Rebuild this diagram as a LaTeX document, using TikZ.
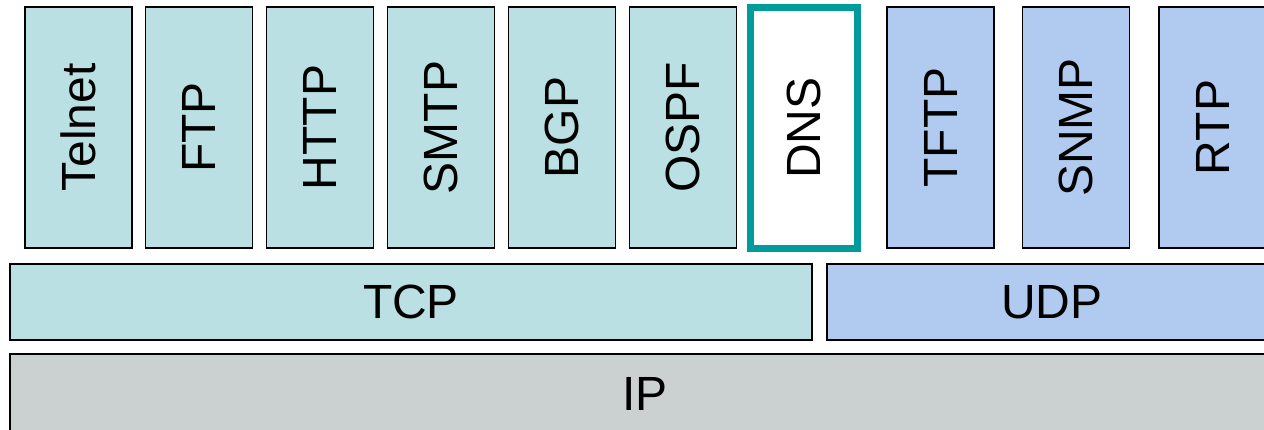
\documentclass[tikz,border=0pt]{standalone}
\usepackage{fontspec}
\setmainfont{Liberation Sans}
\definecolor{tcpfill}{HTML}{BAE0E3}
\definecolor{udpfill}{HTML}{B0CBEF}
\definecolor{ipfill}{HTML}{CBD1D0}
\definecolor{dnsedge}{HTML}{009B9A}
\tikzset{
  layer/.style={draw=black, line width=1.6pt, inner sep=0pt,
    font=\fontsize{48}{56}\selectfont},
  app/.style={layer, minimum width=107pt, minimum height=241pt},
  tcpapp/.style={app, fill=tcpfill},
  udpapp/.style={app, fill=udpfill},
  dnsapp/.style={app, fill=white, draw=dnsedge, line width=7pt},
}
\begin{document}
\begin{tikzpicture}[x=1pt, y=-1pt]
  \useasboundingbox (0,0) rectangle (1264,429);
  \clip (0,0) rectangle (1264,429);

  % application layer
  \node[tcpapp] (telnet) at (78.5,127.5)  {\rotatebox{90}{Telnet}};
  \node[tcpapp] (ftp)    at (199,127.5)   {\rotatebox{90}{FTP}};
  \node[tcpapp] (http)   at (320,127.5)   {\rotatebox{90}{HTTP}};
  \node[tcpapp] (smtp)   at (441,127.5)   {\rotatebox{90}{SMTP}};
  \node[tcpapp] (bgp)    at (562,127.5)   {\rotatebox{90}{BGP}};
  \node[tcpapp] (ospf)   at (683,127.5)   {\rotatebox{90}{OSPF}};
  \node[dnsapp] (dns)    at (804,128)     {\rotatebox{90}{DNS}};
  \node[udpapp] (tftp)   at (940.5,127.5) {\rotatebox{90}{TFTP}};
  \node[udpapp] (snmp)   at (1076,127.5)  {\rotatebox{90}{SNMP}};
  \node[udpapp] (rtp)    at (1212.5,127.5){\rotatebox{90}{RTP}};

  % transport layer
  \node[layer, fill=tcpfill, minimum width=802pt, minimum height=76pt]
    (tcp) at (411,302) {TCP};
  \node[layer, fill=udpfill, minimum width=450pt, minimum height=76pt]
    (udp) at (1052,302) {UDP};

  % network layer
  \node[layer, fill=ipfill, minimum width=1270pt, minimum height=80pt]
    (ip) at (645,394) {IP};
\end{tikzpicture}
\end{document}
